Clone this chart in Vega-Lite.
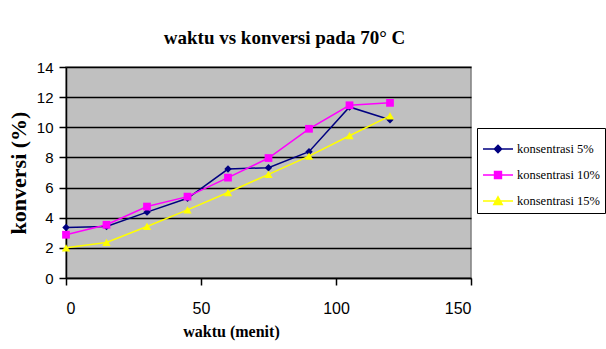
{
  "$schema": "https://vega.github.io/schema/vega-lite/v6.json",
  "width": 405,
  "height": 211,
  "autosize": {"type": "none"},
  "padding": {"left": 66, "top": 67, "right": 135, "bottom": 71},
  "background": "white",
  "title": {
    "text": "waktu vs konversi pada 70° C",
    "font": "Liberation Serif",
    "fontSize": 19,
    "fontWeight": "bold",
    "color": "black",
    "anchor": "middle",
    "dx": 16,
    "offset": 12
  },
  "data": {
    "values": [
      {"waktu": 0, "konversi": 3.35, "seri": "konsentrasi 5%"},
      {"waktu": 15, "konversi": 3.42, "seri": "konsentrasi 5%"},
      {"waktu": 30, "konversi": 4.37, "seri": "konsentrasi 5%"},
      {"waktu": 45, "konversi": 5.29, "seri": "konsentrasi 5%"},
      {"waktu": 60, "konversi": 7.23, "seri": "konsentrasi 5%"},
      {"waktu": 75, "konversi": 7.32, "seri": "konsentrasi 5%"},
      {"waktu": 90, "konversi": 8.38, "seri": "konsentrasi 5%"},
      {"waktu": 105, "konversi": 11.35, "seri": "konsentrasi 5%"},
      {"waktu": 120, "konversi": 10.5, "seri": "konsentrasi 5%"},
      {"waktu": 0, "konversi": 2.87, "seri": "konsentrasi 10%"},
      {"waktu": 15, "konversi": 3.53, "seri": "konsentrasi 10%"},
      {"waktu": 30, "konversi": 4.74, "seri": "konsentrasi 10%"},
      {"waktu": 45, "konversi": 5.4, "seri": "konsentrasi 10%"},
      {"waktu": 60, "konversi": 6.66, "seri": "konsentrasi 10%"},
      {"waktu": 75, "konversi": 7.96, "seri": "konsentrasi 10%"},
      {"waktu": 90, "konversi": 9.9, "seri": "konsentrasi 10%"},
      {"waktu": 105, "konversi": 11.46, "seri": "konsentrasi 10%"},
      {"waktu": 120, "konversi": 11.62, "seri": "konsentrasi 10%"},
      {"waktu": 0, "konversi": 2.0, "seri": "konsentrasi 15%"},
      {"waktu": 15, "konversi": 2.36, "seri": "konsentrasi 15%"},
      {"waktu": 30, "konversi": 3.42, "seri": "konsentrasi 15%"},
      {"waktu": 45, "konversi": 4.52, "seri": "konsentrasi 15%"},
      {"waktu": 60, "konversi": 5.67, "seri": "konsentrasi 15%"},
      {"waktu": 75, "konversi": 6.88, "seri": "konsentrasi 15%"},
      {"waktu": 90, "konversi": 8.09, "seri": "konsentrasi 15%"},
      {"waktu": 105, "konversi": 9.44, "seri": "konsentrasi 15%"},
      {"waktu": 120, "konversi": 10.76, "seri": "konsentrasi 15%"}
    ]
  },
  "encoding": {
    "x": {
      "field": "waktu",
      "type": "quantitative",
      "scale": {"domain": [0, 150], "nice": false},
      "axis": {
        "values": [0, 50, 100, 150],
        "grid": false,
        "title": "waktu (menit)",
        "titleFont": "Liberation Serif",
        "titleFontSize": 16,
        "titleFontWeight": "bold",
        "titleColor": "black",
        "titleX": 165,
        "titlePadding": 7,
        "labelFont": "Liberation Sans",
        "labelFontSize": 16,
        "labelColor": "black",
        "labelPadding": 15,
        "tickSize": 7,
        "tickColor": "black",
        "tickWidth": 1.5,
        "domainColor": "black",
        "domainWidth": 1.5
      }
    },
    "y": {
      "field": "konversi",
      "type": "quantitative",
      "scale": {"domain": [0, 14], "nice": false},
      "axis": {
        "values": [0, 2, 4, 6, 8, 10, 12, 14],
        "grid": true,
        "gridColor": "black",
        "gridWidth": 1.5,
        "title": "konversi (%)",
        "titleFont": "Liberation Serif",
        "titleFontSize": 22,
        "titleFontWeight": "bold",
        "titleColor": "black",
        "titlePadding": 6,
        "labelFont": "Liberation Sans",
        "labelFontSize": 15,
        "labelColor": "black",
        "labelPadding": 6,
        "tickSize": 7,
        "tickColor": "black",
        "tickWidth": 1.5,
        "domainColor": "black",
        "domainWidth": 1.5
      }
    },
    "color": {
      "field": "seri",
      "type": "nominal",
      "sort": null,
      "scale": {
        "domain": ["konsentrasi 5%", "konsentrasi 10%", "konsentrasi 15%"],
        "range": ["#000080", "#FF00FF", "#FFFF00"]
      },
      "legend": {
        "title": null,
        "orient": "none",
        "legendX": 411,
        "legendY": 61,
        "strokeColor": "black",
        "fillColor": "white",
        "padding": 5,
        "rowPadding": 3,
        "labelFont": "Liberation Serif",
        "labelFontSize": 12.5,
        "labelColor": "black",
        "labelOffset": 3,
        "symbolSize": 900,
        "symbolStrokeWidth": 1.5,
        "encode": {
          "symbols": {
            "update": {
              "shape": {"signal": "datum.value === 'konsentrasi 5%' ? 'M-1,0H1M0,-0.24L0.24,0L0,0.24L-0.24,0Z' : datum.value === 'konsentrasi 10%' ? 'M-1,0H1M-0.23,-0.23H0.23V0.23H-0.23Z' : 'M-1,0H1M0,-0.28L0.28,0.23H-0.28Z'"},
              "fill": {"scale": "color", "field": "value"},
              "stroke": {"scale": "color", "field": "value"},
              "strokeWidth": {"value": 1.5},
              "opacity": {"value": 1}
            }
          }
        }
      }
    }
  },
  "layer": [
    {
      "mark": {"type": "line", "strokeWidth": 1.5}
    },
    {
      "transform": [{"filter": "datum.seri === 'konsentrasi 5%'"}],
      "mark": {"type": "point", "filled": true, "opacity": 1, "shape": "diamond", "size": 55}
    },
    {
      "transform": [{"filter": "datum.seri === 'konsentrasi 10%'"}],
      "mark": {"type": "point", "filled": true, "opacity": 1, "shape": "square", "size": 60}
    },
    {
      "transform": [{"filter": "datum.seri === 'konsentrasi 15%'"}],
      "mark": {"type": "point", "filled": true, "opacity": 1, "shape": "triangle-up", "size": 70}
    }
  ],
  "config": {
    "view": {"fill": "#C0C0C0", "stroke": "#808080", "strokeWidth": 1.5}
  }
}
